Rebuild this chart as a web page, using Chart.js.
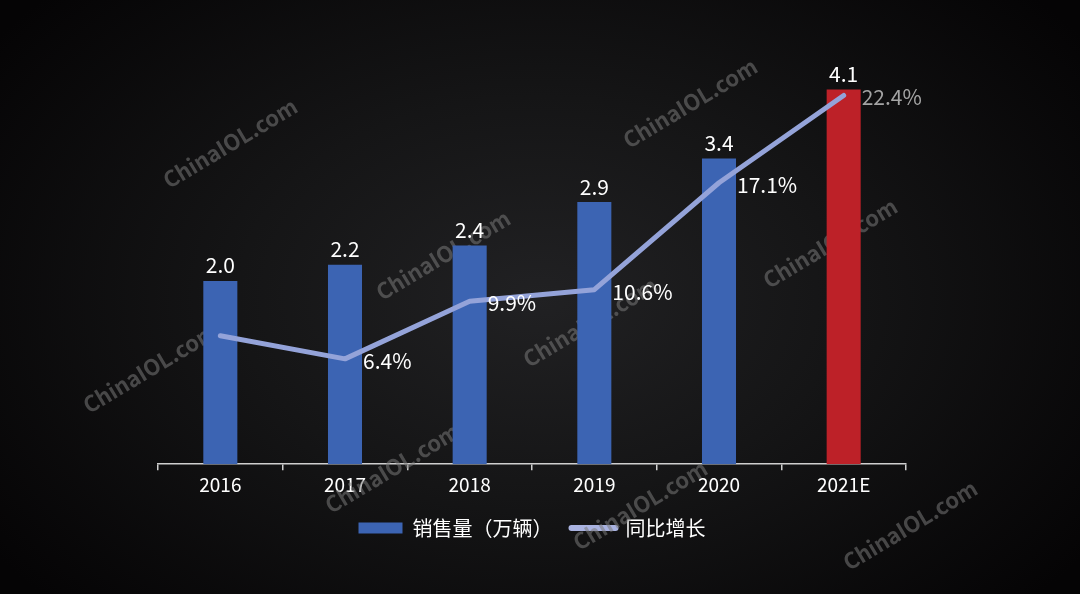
<!DOCTYPE html>
<html>
<head>
<meta charset="utf-8">
<script src="https://cdn.jsdelivr.net/npm/chart.js@4.4.1/dist/chart.umd.min.js"></script>
<style>
  html, body { margin: 0; padding: 0; }
  body {
    width: 1080px; height: 594px; overflow: hidden;
    background: radial-gradient(ellipse 62% 75% at 50% 50%, #212123 0%, #151516 45%, #050405 100%);
  }
  #wrap { width: 1080px; height: 594px; position: relative; }
</style>
</head>
<body>
<div id="wrap"><canvas id="c" width="1080" height="594"></canvas></div>
<script>
// ---- data ----
const categories = ['2016', '2017', '2018', '2019', '2020', '2021E'];
const salesValues = [2.02, 2.2, 2.41, 2.89, 3.37, 4.13];      // 销售量（万辆）
const salesLabels = ['2.0', '2.2', '2.4', '2.9', '3.4', '4.1'];
const growthValues = [7.8, 6.4, 9.9, 10.6, 17.1, 22.4];       // 同比增长 (%)
const growthLabels = ['', '6.4%', '9.9%', '10.6%', '17.1%', '22.4%'];
const seriesNames = ['销售量（万辆）', '同比增长'];
const watermarkText = 'ChinaIOL.com';
const watermarkSpots = [[230,143],[690,103],[443,255],[590,322],[150,368],[830,243],[392,468],[640,505],[910,525]];

const FONT = '"Noto Sans CJK SC", "Noto Sans", sans-serif';
const BLUE = '#3c64b3';
const RED = '#bd2128';
const LINE = '#94a3d9';

const watermarkPlugin = {
  id: 'watermark',
  beforeDatasetsDraw(chart) {
    const ctx = chart.ctx;
    ctx.save();
    ctx.font = 'bold 22px ' + FONT;
    ctx.fillStyle = 'rgba(120,120,120,0.55)';
    ctx.textAlign = 'center';
    ctx.textBaseline = 'middle';
    watermarkSpots.forEach(([x, y]) => {
      ctx.save();
      ctx.translate(x, y);
      ctx.rotate(-31 * Math.PI / 180);
      ctx.fillText(watermarkText, 0, 0);
      ctx.restore();
    });
    ctx.restore();
  }
};

const labelPlugin = {
  id: 'valueLabels',
  afterDatasetsDraw(chart) {
    const ctx = chart.ctx;
    ctx.save();
    ctx.font = '21px ' + FONT;
    // bar labels
    const barMeta = chart.getDatasetMeta(0);
    ctx.textAlign = 'center';
    ctx.textBaseline = 'bottom';
    ctx.fillStyle = '#ffffff';
    barMeta.data.forEach((el, i) => {
      ctx.fillText(salesLabels[i], el.x, el.y - 5);
    });
    // line labels
    const lineMeta = chart.getDatasetMeta(1);
    ctx.textAlign = 'left';
    ctx.textBaseline = 'middle';
    lineMeta.data.forEach((el, i) => {
      if (!growthLabels[i]) return;
      ctx.fillStyle = i === growthLabels.length - 1 ? '#a4a4a4' : '#ffffff';
      ctx.fillText(growthLabels[i], el.x + 18, el.y + 2);
    });
    ctx.restore();
  }
};

new Chart(document.getElementById('c'), {
  data: {
    labels: categories,
    datasets: [
      {
        type: 'bar',
        label: seriesNames[0],
        data: salesValues,
        backgroundColor: categories.map((c, i) => i === categories.length - 1 ? RED : BLUE),
        barPercentage: 0.273,
        categoryPercentage: 1,
        yAxisID: 'y',
        order: 2,
        pointStyle: 'rect'
      },
      {
        type: 'line',
        label: seriesNames[1],
        data: growthValues,
        borderColor: LINE,
        backgroundColor: LINE,
        borderWidth: 5,
        borderCapStyle: 'round',
        borderJoinStyle: 'round',
        pointRadius: 0,
        tension: 0,
        yAxisID: 'y2',
        order: 1,
        pointStyle: 'line'
      }
    ]
  },
  plugins: [watermarkPlugin, labelPlugin],
  options: {
    responsive: false,
    animation: false,
    devicePixelRatio: 1,
    layout: { padding: { left: 158, right: 174, top: 56, bottom: 46 } },
    plugins: {
      tooltip: { enabled: false },
      legend: {
        position: 'bottom',
        labels: {
          usePointStyle: true,
          pointStyleWidth: 44,
          boxHeight: 11,
          padding: 19,
          color: '#ffffff',
          font: { family: FONT, size: 20 },
          generateLabels(chart) {
            return chart.data.datasets.map((ds, i) => ({
              text: ds.label,
              fillStyle: i === 0 ? BLUE : LINE,
              strokeStyle: i === 0 ? BLUE : '#a9b2e0',
              lineWidth: i === 0 ? 0 : 6,
              lineCap: 'round',
              pointStyle: ds.pointStyle,
              fontColor: '#ffffff',
              datasetIndex: i,
              hidden: false
            }));
          }
        }
      }
    },
    scales: {
      x: {
        offset: true,
        grid: {
          offset: true,
          drawOnChartArea: false,
          drawTicks: true,
          tickLength: 6,
          color: '#cfcfcf',
          lineWidth: 1.5
        },
        border: { display: true, color: '#cfcfcf', width: 1.5 },
        ticks: { color: '#ffffff', padding: 3, font: { family: FONT, size: 19 } }
      },
      y: { display: false, min: 0, max: 4.5 },
      y2: { display: false, min: 0, max: 24.8, position: 'right' }
    }
  }
});
</script>
</body>
</html>
